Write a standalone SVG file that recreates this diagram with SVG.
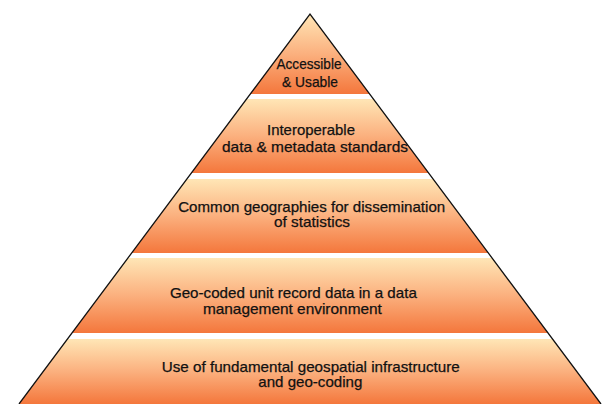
<svg xmlns="http://www.w3.org/2000/svg" width="609" height="404" viewBox="0 0 609 404">
  <defs>
    <linearGradient id="tierGrad" x1="0" y1="0" x2="0" y2="1">
      <stop offset="0" stop-color="#FFE6B6"/>
      <stop offset="0.5" stop-color="#FBB07E"/>
      <stop offset="1" stop-color="#F4773C"/>
    </linearGradient>
    <style>
      .tier { fill: url(#tierGrad); stroke: none; }
      .label { font-family: "Liberation Sans", Arial, sans-serif; font-size: 15px; fill: #111111; stroke: #111111; stroke-width: 0.25; text-anchor: middle; }
      .outline { fill: none; stroke: #111; stroke-width: 1.3; }
    </style>
  </defs>
  <rect width="609" height="404" fill="#ffffff"/>

  <g id="tier1">
    <polygon class="tier" points="310,14 369.7,94 250.3,94"/>
    <text class="label" x="309" y="68.5" textLength="65" lengthAdjust="spacingAndGlyphs">Accessible</text>
    <text class="label" x="310" y="87" textLength="56" lengthAdjust="spacingAndGlyphs">&amp; Usable</text>
  </g>
  <g id="tier2">
    <polygon class="tier" points="246.6,99 373.4,99 428.6,173 191.4,173"/>
    <text class="label" x="311" y="135" textLength="88" lengthAdjust="spacingAndGlyphs">Interoperable</text>
    <text class="label" x="315" y="151.5" textLength="186" lengthAdjust="spacingAndGlyphs">data &amp; metadata standards</text>
  </g>
  <g id="tier3">
    <polygon class="tier" points="186.9,179 433.1,179 488.3,253 131.7,253"/>
    <text class="label" x="311.7" y="211.5" textLength="267" lengthAdjust="spacingAndGlyphs">Common geographies for dissemination</text>
    <text class="label" x="312" y="227" textLength="76" lengthAdjust="spacingAndGlyphs">of statistics</text>
  </g>
  <g id="tier4">
    <polygon class="tier" points="128,258 492,258 548,333 72,333"/>
    <text class="label" x="293.4" y="298.3" textLength="247" lengthAdjust="spacingAndGlyphs">Geo-coded unit record data in a data</text>
    <text class="label" x="292.4" y="313.8" textLength="179" lengthAdjust="spacingAndGlyphs">management environment</text>
  </g>
  <g id="tier5">
    <polygon class="tier" points="67.5,339 552.5,339 601,404 19,404"/>
    <text class="label" x="310.8" y="371.7" textLength="298" lengthAdjust="spacingAndGlyphs">Use of fundamental geospatial infrastructure</text>
    <text class="label" x="310.3" y="387.2" textLength="104" lengthAdjust="spacingAndGlyphs">and geo-coding</text>
  </g>

  <g id="connectors">
    <polyline class="outline" points="19,404 310,14 601,404"/>
  </g>
</svg>
